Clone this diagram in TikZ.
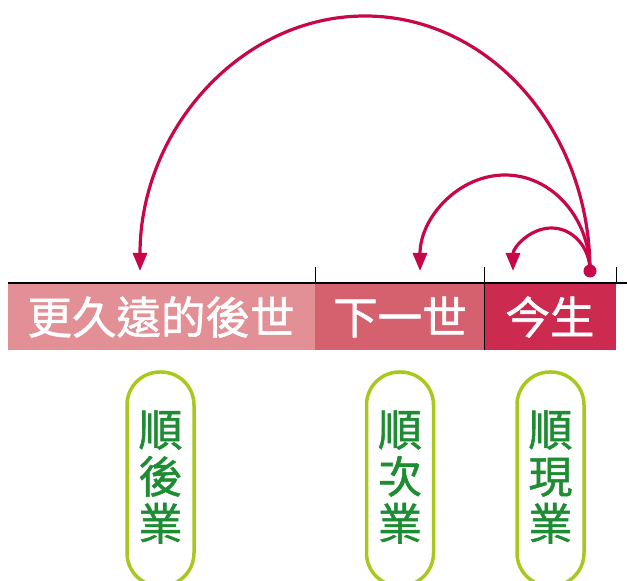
\documentclass[tikz,border=0pt]{standalone}
\usepackage{fontspec}
\newfontfamily\cjk[FakeBold=1.2]{Noto Sans CJK TC}
\usetikzlibrary{arrows.meta}
\definecolor{arc}{HTML}{C8064A}
\definecolor{segA}{HTML}{E29095}
\definecolor{segB}{HTML}{D5616E}
\definecolor{segC}{HTML}{CC2A4E}
\definecolor{pillc}{HTML}{A8C81E}
\definecolor{gtext}{HTML}{1E8C32}
\tikzset{
  seglabel/.style={text=white,font=\cjk\fontsize{44.5}{46}\selectfont,inner sep=0pt},
  pill/.style={draw=pillc,line width=3.5pt,rounded corners=33pt,minimum width=67pt,minimum height=214pt,inner sep=0pt},
  pilltext/.style={text=gtext,font=\cjk\fontsize{44}{47}\selectfont,align=center,inner sep=0pt},
  arcline/.style={draw=arc,line width=3.2pt,-{Triangle[length=18pt,width=14pt]}},
  tick/.style={line width=0.8pt}
}
\begin{document}
\begin{tikzpicture}[x=1pt,y=1pt]
\useasboundingbox (0,0) rectangle (627,581);
\clip (0,0) rectangle (627,581);
% bar segments
\fill[segA] (8,231) rectangle (315,297);
\fill[segB] (315,231) rectangle (484,297);
\fill[segC] (484,231) rectangle (616,297);
\draw[line width=0.8pt] (484,231) -- (484,297);
\draw[line width=1.2pt] (8,298) -- (627,298);
\draw[tick] (315,298) -- (315,314);
\draw[tick] (484,298) -- (484,314);
\draw[tick] (616,298) -- (616,314);
\node[seglabel] (later) at (161,264) {更久遠的後世};
\node[seglabel] (next) at (400,264) {下一世};
\node[seglabel] (now) at (550,264) {今生};
% arcs
\coordinate (d) at (590,310);
\draw[arcline] (d) arc[start angle=0,end angle=180,x radius=225,y radius=255];
\draw[arcline] (d) arc[start angle=0,end angle=180,x radius=85,y radius=96];
\draw[arcline] (d) arc[start angle=0,end angle=180,x radius=38.5,y radius=43];
\fill[arc] (d) circle (6.5);
% pills
\node[pill] (p1) at (160.5,102) {};
\node[pill] (p2) at (400,102) {};
\node[pill] (p3) at (550.5,102) {};
\node[pilltext] (t1) at (160.5,104) {順\\後\\業};
\node[pilltext] (t2) at (400,104) {順\\次\\業};
\node[pilltext] (t3) at (550.5,104) {順\\現\\業};
\end{tikzpicture}
\end{document}
